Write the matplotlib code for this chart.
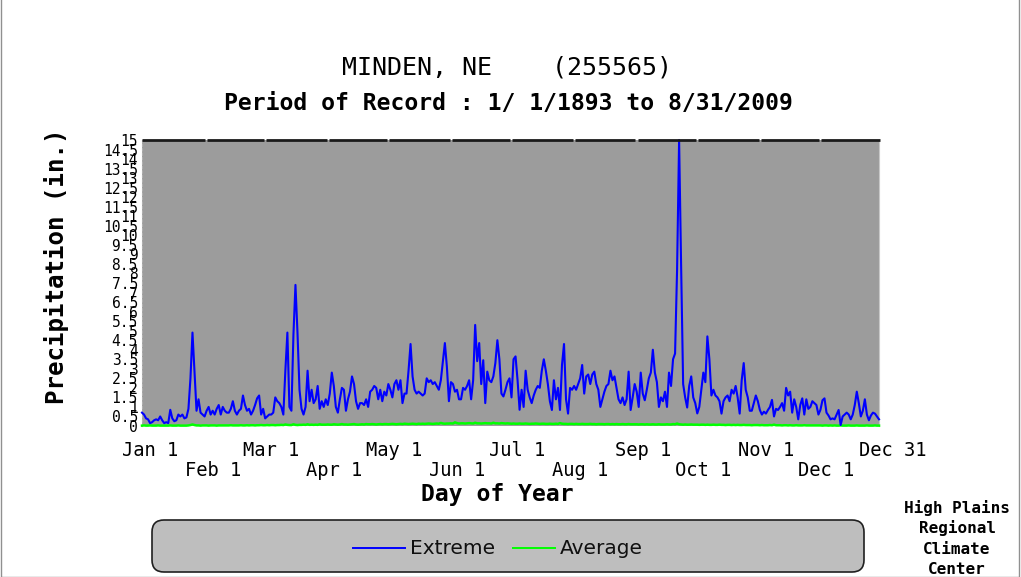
import matplotlib
matplotlib.use("Agg")
import matplotlib.pyplot as plt
import numpy as np
from matplotlib import transforms
from matplotlib.patches import FancyBboxPatch, Rectangle
from matplotlib.lines import Line2D

# ---------------- data ----------------
title = "MINDEN, NE    (255565)"
subtitle = "Period of Record : 1/ 1/1893 to 8/31/2009"
xlabel = "Day of Year"
ylabel = "Precipitation (in.)"
series_names = ["Extreme", "Average"]

month_start_days = [0, 31, 60, 91, 121, 152, 182, 213, 244, 274, 305, 335, 365]
month_labels = ["Jan 1", "Feb 1", "Mar 1", "Apr 1", "May 1", "Jun 1", "Jul 1",
                "Aug 1", "Sep 1", "Oct 1", "Nov 1", "Dec 1", "Dec 31"]

ext_jan = [0.7, 0.6, 0.4, 0.35, 0.15, 0.2, 0.3, 0.35, 0.3, 0.5, 0.3, 0.15, 0.2, 0.15, 0.85, 0.4,
           0.25, 0.3, 0.6, 0.5, 0.6, 0.4, 0.45, 0.9, 2.5, 4.9, 2.8, 0.8, 1.4, 0.7, 0.6]
ext_feb = [0.5, 0.8, 1.0, 0.6, 0.8, 0.6, 0.9, 1.1, 0.6, 1.0, 0.8, 0.7, 0.7, 0.9, 1.3, 0.8,
           0.6, 0.8, 0.9, 1.6, 1.1, 0.8, 0.9, 0.6, 0.8, 1.1, 1.45, 1.6, 0.6]
ext_mar = [0.9, 0.4, 0.5, 0.6, 0.6, 0.7, 1.5, 1.3, 1.2, 1.0, 0.6, 2.9, 4.9, 1.0, 0.8, 4.8,
           7.4, 4.9, 1.9, 0.9, 0.6, 1.0, 2.9, 1.3, 1.9, 1.2, 1.4, 2.1, 0.9, 1.3, 1.0]
ext_apr = [1.4, 1.1, 1.7, 2.8, 2.1, 1.0, 0.7, 1.4, 2.0, 1.9, 0.8, 1.4, 1.8, 2.6, 2.2,
           1.3, 0.9, 1.2, 1.2, 1.1, 1.4, 1.0, 1.8, 1.9, 2.1, 2.0, 1.4, 1.9, 1.3, 1.8]
ext_may = [1.6, 2.2, 1.9, 1.5, 2.2, 2.4, 1.9, 2.4, 1.2, 1.7, 1.7, 2.9, 4.3, 2.6, 1.9, 1.7,
           1.8, 1.7, 1.6, 1.7, 2.5, 2.3, 2.4, 2.2, 2.3, 2.1, 1.9, 2.4, 3.4, 4.35, 3.1]
ext_jun = [1.3, 2.3, 2.2, 1.8, 1.9, 1.4, 1.4, 2.0, 1.9, 2.1, 2.4, 1.4, 2.4, 5.3, 3.4,
           4.35, 2.2, 3.45, 1.2, 2.85, 2.4, 2.3, 2.6, 3.3, 4.5, 3.5, 1.7, 1.55, 1.9, 2.3]
ext_jul = [2.5, 1.5, 3.5, 3.65, 2.4, 0.85, 1.9, 1.0, 2.9, 1.9, 1.5, 1.2, 1.6, 1.9, 2.1, 2.0,
           2.9, 3.5, 2.9, 2.2, 1.3, 0.84, 2.4, 1.4, 2.0, 0.84, 3.2, 4.3, 1.4, 0.65, 2.0]
ext_aug = [1.9, 2.1, 1.9, 2.2, 2.5, 3.2, 1.7, 2.6, 2.7, 2.2, 2.7, 2.85, 2.2, 1.9, 1.0, 1.4,
           1.8, 2.1, 2.2, 2.9, 2.4, 2.6, 2.0, 1.4, 1.2, 1.5, 1.1, 1.4, 2.85, 0.84, 1.5]
ext_sep = [2.2, 1.8, 1.0, 2.8, 1.7, 1.35, 1.9, 2.5, 2.8, 4.0, 2.8, 2.3, 1.0, 1.5, 1.3,
           1.8, 1.0, 2.8, 2.1, 3.5, 3.8, 8.2, 15.0, 8.4, 2.2, 1.5, 0.97, 2.1, 2.6, 1.5]
ext_oct = [1.2, 0.66, 1.0, 1.9, 2.8, 2.3, 4.7, 3.5, 1.6, 1.9, 1.6, 1.5, 1.3, 0.65, 1.3, 1.5,
           1.6, 1.3, 1.9, 1.7, 2.1, 1.5, 0.65, 2.4, 3.3, 1.9, 1.5, 0.8, 0.8, 1.2, 1.6]
ext_nov = [1.3, 0.84, 0.6, 0.75, 0.65, 0.84, 1.0, 1.37, 0.5, 0.9, 0.84, 1.0, 1.2, 0.8, 2.0,
           1.6, 1.8, 0.7, 1.4, 1.0, 0.35, 1.1, 1.45, 0.6, 1.4, 0.9, 1.0, 1.3, 1.2, 1.1]
ext_dec = [0.6, 0.85, 1.35, 1.45, 0.7, 0.55, 0.35, 0.4, 0.35, 0.6, 0.84, 0.05, 0.5, 0.6, 0.7, 0.6,
           0.35, 0.6, 1.1, 1.8, 1.2, 0.5, 0.8, 1.4, 0.6, 0.3, 0.55, 0.7, 0.65, 0.5, 0.35]

avg_jan = [0.02, 0.03, 0.02, 0.02, 0.03, 0.02, 0.02, 0.02, 0.03, 0.02, 0.02, 0.02, 0.02, 0.02, 0.03, 0.02,
           0.02, 0.02, 0.03, 0.02, 0.02, 0.02, 0.02, 0.03, 0.05, 0.08, 0.05, 0.03, 0.03, 0.02, 0.03]
avg_feb = [0.03, 0.03, 0.02, 0.03, 0.03, 0.03, 0.02, 0.03, 0.03, 0.03, 0.03, 0.03, 0.03, 0.04, 0.03,
           0.03, 0.03, 0.03, 0.04, 0.03, 0.03, 0.04, 0.03, 0.04, 0.04, 0.03, 0.04, 0.04, 0.05]
avg_mar = [0.04, 0.04, 0.05, 0.04, 0.05, 0.05, 0.04, 0.05, 0.05, 0.06, 0.05, 0.08, 0.06, 0.05, 0.05, 0.09,
           0.06, 0.05, 0.06, 0.06, 0.07, 0.06, 0.09, 0.06, 0.07, 0.06, 0.07, 0.06, 0.09, 0.07, 0.07]
avg_apr = [0.07, 0.08, 0.07, 0.07, 0.09, 0.08, 0.07, 0.08, 0.10, 0.08, 0.08, 0.07, 0.08, 0.09, 0.10,
           0.08, 0.07, 0.08, 0.09, 0.08, 0.10, 0.09, 0.09, 0.10, 0.09, 0.08, 0.09, 0.10, 0.09, 0.10]
avg_may = [0.10, 0.09, 0.10, 0.11, 0.10, 0.09, 0.10, 0.11, 0.10, 0.12, 0.11, 0.10, 0.11, 0.12, 0.11, 0.10,
           0.12, 0.11, 0.12, 0.11, 0.12, 0.13, 0.12, 0.11, 0.12, 0.13, 0.12, 0.16, 0.13, 0.12, 0.13]
avg_jun = [0.13, 0.14, 0.13, 0.19, 0.15, 0.13, 0.14, 0.14, 0.13, 0.14, 0.15, 0.14, 0.13, 0.17, 0.14,
           0.14, 0.13, 0.14, 0.15, 0.14, 0.14, 0.13, 0.17, 0.14, 0.14, 0.13, 0.15, 0.14, 0.13, 0.14]
avg_jul = [0.13, 0.12, 0.13, 0.12, 0.12, 0.13, 0.12, 0.12, 0.13, 0.12, 0.11, 0.12, 0.12, 0.13, 0.12, 0.11,
           0.12, 0.12, 0.11, 0.11, 0.12, 0.11, 0.11, 0.12, 0.11, 0.15, 0.12, 0.11, 0.11, 0.10, 0.11]
avg_aug = [0.11, 0.10, 0.11, 0.10, 0.10, 0.11, 0.10, 0.10, 0.10, 0.11, 0.10, 0.10, 0.09, 0.10, 0.10, 0.10,
           0.09, 0.10, 0.10, 0.09, 0.10, 0.09, 0.10, 0.09, 0.09, 0.10, 0.09, 0.09, 0.10, 0.09, 0.09]
avg_sep = [0.09, 0.09, 0.08, 0.09, 0.09, 0.08, 0.09, 0.08, 0.08, 0.09, 0.08, 0.08, 0.09, 0.08, 0.08,
           0.08, 0.09, 0.08, 0.08, 0.10, 0.09, 0.13, 0.09, 0.08, 0.07, 0.08, 0.07, 0.07, 0.08, 0.07]
avg_oct = [0.07, 0.07, 0.06, 0.07, 0.07, 0.06, 0.07, 0.06, 0.06, 0.07, 0.06, 0.06, 0.07, 0.06, 0.06, 0.05,
           0.06, 0.06, 0.05, 0.06, 0.05, 0.06, 0.05, 0.05, 0.06, 0.05, 0.05, 0.05, 0.04, 0.05, 0.05]
avg_nov = [0.05, 0.04, 0.05, 0.04, 0.04, 0.04, 0.05, 0.04, 0.07, 0.04, 0.04, 0.04, 0.03, 0.04, 0.04,
           0.03, 0.04, 0.03, 0.03, 0.04, 0.03, 0.03, 0.03, 0.04, 0.03, 0.03, 0.03, 0.03, 0.03, 0.03]
avg_dec = [0.03, 0.03, 0.02, 0.03, 0.03, 0.02, 0.03, 0.02, 0.03, 0.02, 0.02, 0.03, 0.02, 0.02, 0.02, 0.03,
           0.02, 0.02, 0.02, 0.03, 0.02, 0.02, 0.02, 0.02, 0.03, 0.02, 0.02, 0.02, 0.03, 0.02, 0.02]

extreme = (ext_jan + ext_feb + ext_mar + ext_apr + ext_may + ext_jun +
           ext_jul + ext_aug + ext_sep + ext_oct + ext_nov + ext_dec)
average = (avg_jan + avg_feb + avg_mar + avg_apr + avg_may + avg_jun +
           avg_jul + avg_aug + avg_sep + avg_oct + avg_nov + avg_dec)

y_ticks = [i * 0.5 for i in range(31)]
y_tick_labels = [("%g" % v) for v in y_ticks]

# ---------------- figure ----------------
W, H = 1021, 577
fig = plt.figure(figsize=(W / 100, H / 100), dpi=100)
fig.patch.set_facecolor("white")

mono = "DejaVu Sans Mono"

L, R, T, B = 142, 879, 140, 426
ax = fig.add_axes([L / W, 1 - B / H, (R - L) / W, (B - T) / H])
ax.set_facecolor("#9c9c9c")
ax.set_xlim(0, 365)
ax.set_ylim(0, 15)

ax.plot(np.arange(len(average)), average, color="#00ff00", lw=1.8, clip_on=False, zorder=3)
ax.plot(np.arange(len(extreme)), extreme, color="#0000ff", lw=1.5, clip_on=False, zorder=4)

# spines
for s in ["top", "bottom"]:
    ax.spines[s].set_visible(False)
ax.spines["left"].set_color("#b0b0b0")
ax.spines["left"].set_linestyle((0, (2, 2)))
ax.spines["left"].set_linewidth(0.8)
ax.spines["right"].set_color("#c8c8c8")
ax.spines["right"].set_linewidth(0.8)

# top border segmented at month starts
topt = transforms.blended_transform_factory(ax.transData, ax.transAxes)
for i in range(len(month_start_days) - 1):
    a = month_start_days[i] + (1.4 if i > 0 else 0)
    b = month_start_days[i + 1] + 0.4
    ax.plot([a, b], [1.0, 1.0], color="#1a1a1a", lw=2.0, transform=topt,
            clip_on=False, solid_capstyle="butt", zorder=5)

# y ticks
ax.set_yticks(y_ticks)
ax.set_yticklabels(y_tick_labels, fontfamily=mono, fontsize=10.5)
ax.tick_params(axis="y", length=0, pad=3)
ax.set_xticks([])

# x tick labels in two rows
for i, (d, lab) in enumerate(zip(month_start_days, month_labels)):
    row = 0 if (i % 2 == 0) else 1
    off = transforms.ScaledTranslation(-20 / 100, -(24 + 20 * row) / 100, fig.dpi_scale_trans)
    ax.text(d, 0, lab, transform=topt + off, ha="left", va="center",
            fontfamily=mono, fontsize=13.5)

# titles
fig.text(507 / W, 1 - 68 / H, title, ha="center", va="center", fontfamily=mono, fontsize=18)
fig.text(508 / W, 1 - 103 / H, subtitle, ha="center", va="center", fontfamily=mono,
         fontsize=16.6, fontweight="bold")
fig.text(497 / W, 1 - 494 / H, xlabel, ha="center", va="center", fontfamily=mono,
         fontsize=16.6, fontweight="bold")
fig.text(57 / W, 1 - 266 / H, ylabel, ha="center", va="center", rotation=90,
         fontfamily=mono, fontsize=17.4, fontweight="bold")

# legend box (pixel coordinates)
ident = transforms.IdentityTransform()
box = FancyBboxPatch((152, H - 572), 712, 52, boxstyle="round,pad=0,rounding_size=12",
                     facecolor="#bebebe", edgecolor="#202020", lw=1.2, transform=ident)
fig.add_artist(box)
ly = H - 548
fig.add_artist(Line2D([353, 405], [ly, ly], color="#0000ff", lw=1.4, transform=ident))
fig.add_artist(Line2D([513, 555], [ly, ly], color="#00ff00", lw=1.4, transform=ident))
fig.text(410 / W, ly / H, series_names[0], ha="left", va="center", fontsize=14.5,
         family="DejaVu Sans", color="#101010")
fig.text(560 / W, ly / H, series_names[1], ha="left", va="center", fontsize=14.5,
         family="DejaVu Sans", color="#101010")

# credit
for j, line in enumerate(["High Plains", "Regional", "Climate", "Center"]):
    fig.text(957 / W, 1 - (508 + 20.5 * j) / H, line, ha="center", va="center",
             fontfamily=mono, fontsize=11.5, fontweight="bold")

# outer figure border
fig.add_artist(Rectangle((0.5, 0.5), W - 3, H + 5, fill=False, edgecolor="#909090",
                         lw=1.0, transform=ident))

fig.savefig("out.png", dpi=100)
